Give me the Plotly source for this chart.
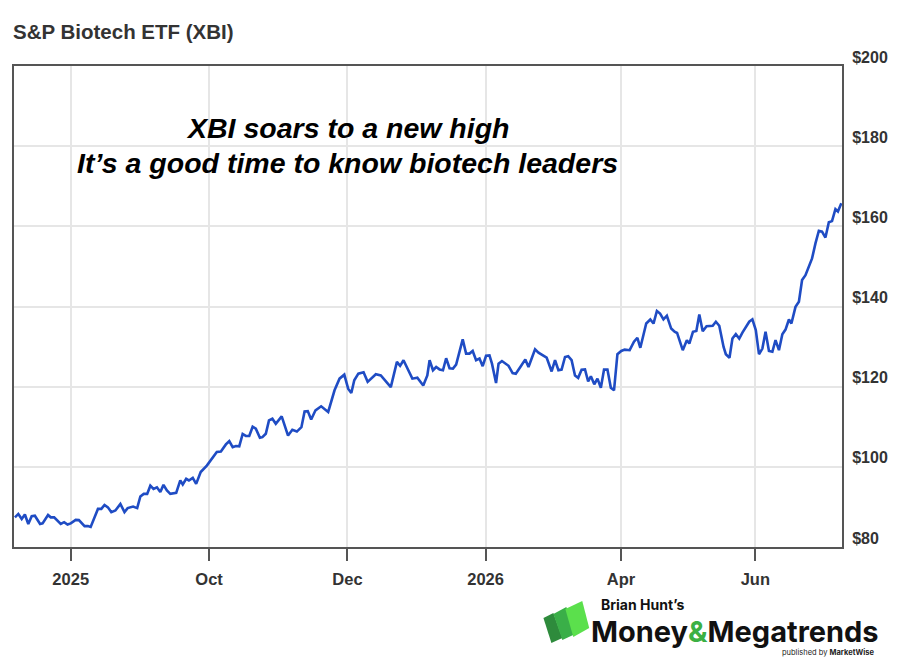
import plotly.graph_objects as go

# ---- data ----
day = [0.4, 1.9, 3.4, 4.8, 6.3, 7.8, 9.2, 11.5, 12.6, 15.0, 16.2, 17.7, 20.6, 22.1, 23.6, 25.0,
       27.2, 28.6, 31.1, 32.6, 33.8, 37.0, 38.5, 39.9, 41.4, 42.9, 44.7, 46.9, 48.7, 50.1, 52.5,
       54.3, 55.7, 57.2, 58.7, 60.1, 61.5, 63.0, 64.5, 65.9, 67.4, 68.9, 71.5, 73.3, 74.4, 75.9,
       77.1, 78.8, 80.3, 82.3, 85.0, 87.9, 89.4, 91.2, 93.4, 94.9, 96.4, 97.8, 99.3, 100.8, 102.2,
       103.7, 105.2, 106.6, 108.4, 109.5, 111.0, 112.4, 113.9, 115.4, 118.0, 120.8, 122.7, 124.7,
       126.7, 128.1, 129.5, 131.0, 132.9, 135.4, 138.5, 141.3, 143.5, 145.6, 147.3, 148.7, 150.0,
       151.8, 154.1, 155.9, 159.5, 161.7, 163.9, 166.1, 168.8, 170.2, 171.7, 175.6, 177.8, 180.4,
       182.2, 183.2, 184.7, 186.1, 187.6, 189.1, 190.5, 192.0, 193.5, 194.9, 197.8, 199.3, 200.8,
       202.2, 203.7, 205.2, 206.6, 208.1, 209.6, 210.7, 212.5, 213.6, 215.1, 218.0, 219.8, 221.2,
       223.2, 225.4, 226.8, 229.7, 231.2, 232.9, 234.8, 237.0, 238.5, 240.0, 241.4, 242.9, 244.3,
       245.8, 247.3, 248.7, 250.2, 251.7, 253.1, 254.3, 255.8, 257.2, 258.7, 260.1, 261.6, 263.1,
       264.5, 266.0, 267.7, 269.2, 271.4, 273.3, 274.8, 276.1, 278.7, 280.5, 281.9, 283.4, 284.8,
       286.3, 287.8, 289.7, 291.2, 292.3, 294.8, 296.6, 297.7, 299.3, 300.8, 302.1, 303.6, 305.3,
       308.0, 309.4, 310.9, 312.8, 313.8, 315.4, 316.7, 318.2, 319.7, 321.1, 322.6, 324.1, 325.5,
       327.0, 328.4, 329.9, 331.3, 332.8, 334.3, 335.7, 337.2, 338.7, 340.1, 341.6, 342.7, 344.5,
       346.0, 347.4, 348.9, 350.4, 351.8, 353.3, 354.8, 356.2, 357.7, 359.2, 360.6, 362.1, 363.2,
       364.7]
price = [87.4, 88.25, 87.0, 88.1, 85.75, 87.7, 87.8, 85.75, 85.9, 88.0, 87.4, 87.4, 85.75, 86.2,
         85.6, 85.9, 86.75, 86.7, 85.2, 85.25, 85.0, 89.5, 89.5, 90.5, 89.9, 88.7, 89.1, 90.75,
         88.7, 89.7, 90.1, 89.7, 92.6, 93.25, 93.25, 95.3, 94.5, 94.9, 93.7, 95.5, 94.1, 93.25,
         93.5, 96.6, 95.6, 97.0, 96.6, 97.25, 95.75, 98.7, 100.3, 102.7, 103.7, 103.8, 105.6,
         106.4, 104.9, 105.2, 105.1, 108.2, 107.7, 107.7, 110.0, 109.5, 107.25, 107.4, 108.25,
         111.6, 112.0, 110.75, 112.6, 107.8, 109.25, 108.8, 109.9, 113.8, 113.9, 111.8, 114.1,
         115.1, 113.7, 119.1, 122.0, 123.0, 119.5, 118.4, 121.6, 123.25, 123.6, 121.2, 123.1,
         122.8, 121.3, 119.9, 126.2, 125.2, 126.6, 122.0, 122.25, 120.3, 122.8, 126.6, 124.1,
         124.9, 124.3, 124.1, 127.1, 124.6, 124.5, 125.5, 131.8, 128.25, 128.25, 128.9, 126.6,
         127.0, 125.1, 127.7, 127.8, 125.75, 120.9, 125.75, 126.4, 125.2, 123.4, 123.2, 124.9,
         126.8, 124.9, 129.3, 128.5, 127.8, 127.25, 123.8, 126.6, 124.1, 124.25, 127.4, 127.6,
         126.6, 122.8, 122.2, 124.25, 124.3, 121.3, 122.6, 120.6, 122.0, 119.75, 124.25, 124.25,
         119.75, 119.1, 128.1, 128.9, 129.25, 129.1, 131.2, 132.2, 129.7, 135.75, 136.75, 135.75,
         138.9, 138.25, 136.8, 137.7, 134.5, 133.7, 133.4, 129.1, 131.6, 130.75, 133.7, 133.9,
         138.0, 133.8, 135.1, 135.2, 136.2, 135.2, 129.9, 128.1, 127.2, 132.0, 133.1, 132.0,
         133.5, 134.7, 136.2, 136.8, 134.1, 128.1, 129.5, 133.7, 128.9, 128.7, 131.6, 129.1,
         133.1, 134.25, 136.75, 135.75, 139.9, 141.2, 146.6, 147.8, 150.1, 152.0, 155.75, 158.9,
         158.7, 157.2, 161.0, 161.3, 164.3, 163.7, 165.75]

tick_days = [25.0, 86.0, 147.0, 207.9, 267.6, 326.8]
tick_labels = ["2025", "Oct", "Dec", "2026", "Apr", "Jun"]
y_ticks = [80, 100, 120, 140, 160, 180, 200]
y_labels = ["$80", "$100", "$120", "$140", "$160", "$180", "$200"]

title = "S&P Biotech ETF (XBI)"
headline = ["XBI soars to a new high", "It’s a good time to know biotech leaders"]

# ---- layout geometry helpers ----
W, H = 900, 663
L, R, T, B = 13, 845, 66, 547


def px(x):
    return (x - L) / (R - L)


def py(y):
    return (B - y) / (B - T)


FONT = "Liberation Sans, Arial, Helvetica, sans-serif"
LOGO_FONT = "Inter, Lato, sans-serif"

fig = go.Figure()
fig.add_trace(go.Scatter(x=day, y=price, mode="lines",
                         line=dict(color="#1f4cc4", width=2.6),
                         hoverinfo="skip", showlegend=False))

fig.update_layout(
    width=W, height=H,
    margin=dict(l=L, r=W - R, t=T, b=H - B, pad=0),
    paper_bgcolor="white", plot_bgcolor="white",
    title=dict(text="<b>" + title + "</b>", x=L / W, xanchor="left", xref="container",
               y=1 - 32 / H, yanchor="middle", yref="container",
               font=dict(family=FONT, size=20.5, color="#333333")),
    xaxis=dict(range=[0, 365], tickvals=tick_days,
               ticktext=["<b>" + t + "</b>" for t in tick_labels],
               showgrid=True, gridcolor="#e6e6e6", gridwidth=1.5,
               showline=True, mirror=True, linecolor="#555555", linewidth=2,
               ticks="outside", ticklen=12, tickwidth=1.5, tickcolor="#555555",
               ticklabelstandoff=4,
               tickfont=dict(family=FONT, size=16.5, color="#333333"),
               zeroline=False, fixedrange=True),
    yaxis=dict(range=[80, 200], tickvals=y_ticks,
               ticktext=["<b>" + t + "</b>" for t in y_labels], side="right",
               showgrid=True, gridcolor="#e6e6e6", gridwidth=1.5,
               showline=True, mirror=True, linecolor="#555555", linewidth=2,
               ticks="", ticklabelshift=-9, ticklabelstandoff=5,
               tickfont=dict(family=FONT, size=16, color="#333333"),
               zeroline=False, fixedrange=True),
)

# headline text
for txt, yy in zip(headline, [128, 163]):
    fig.add_annotation(text="<b><i>" + txt + "</i></b>", x=px(348), y=py(yy),
                       xref="paper", yref="paper", xanchor="center", yanchor="middle",
                       showarrow=False, font=dict(family=FONT, size=28.5, color="#000000"))

# logo
fig.add_annotation(text="<b>Brian Hunt’s</b>", x=px(601), y=py(604.5), xref="paper", yref="paper",
                   xanchor="left", yanchor="middle", showarrow=False,
                   font=dict(family=LOGO_FONT, size=14, color="#111111"))
fig.add_annotation(text="<b>Money<span style='color:#3cb043'>&</span>Megatrends</b>",
                   x=px(591), y=py(631), xref="paper", yref="paper",
                   xanchor="left", yanchor="middle", showarrow=False,
                   font=dict(family=LOGO_FONT, size=29, color="#111111"))
fig.add_annotation(text="published by <b>MarketWise</b>", x=px(879), y=py(652),
                   xref="paper", yref="paper", xanchor="right", yanchor="middle",
                   showarrow=False,
                   font=dict(family=LOGO_FONT, size=7.5, color="#222222"))

icon_pieces = [
    ([(545, 618), (555, 613), (564, 638), (553, 643)], "#2e8b3c"),
    ([(555, 614), (568, 607), (577, 634), (564, 640)], "#3aaf48"),
    ([(567, 609), (584, 601), (591, 628), (575, 637)], "#5be04c"),
]
for pts, col in icon_pieces:
    path = "M " + " L ".join(f"{px(a):.5f},{py(b):.5f}" for a, b in pts) + " Z"
    fig.add_shape(type="path", path=path, xref="paper", yref="paper",
                  fillcolor=col, line=dict(width=0))

fig.write_html("out.html")
